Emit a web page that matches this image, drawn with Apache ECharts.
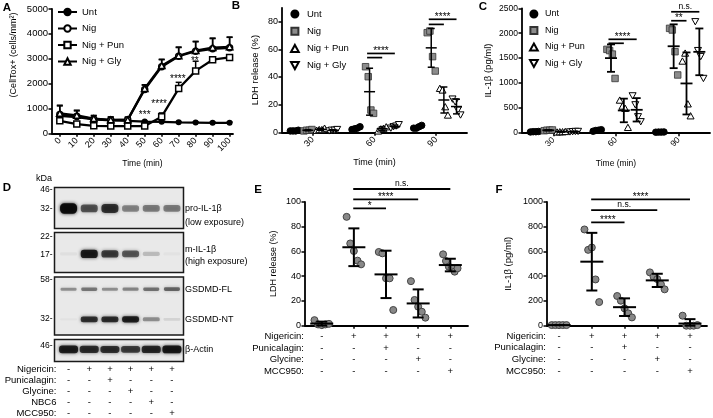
<!DOCTYPE html>
<html><head><meta charset="utf-8">
<script src="https://cdn.jsdelivr.net/npm/echarts@6.0.0/dist/echarts.min.js"></script>
<style>html,body{margin:0;padding:0;background:#fff;}#chart{width:713px;height:418px;}</style>
</head><body><div id="chart"></div>
<script>
const FONT = '"Liberation Sans", Arial, Helvetica, sans-serif';

// ===== Panel A: CellTox+ over time =====
const aTimes = [0, 10, 20, 30, 40, 50, 60, 70, 80, 90, 100];
const aUnt = [700, 650, 560, 520, 500, 470, 460, 440, 430, 420, 420];
const aNig = [760, 690, 570, 530, 550, 1760, 2680, 3100, 3300, 3400, 3440];
const aPun = [500, 370, 300, 290, 290, 290, 670, 1800, 2510, 2960, 3050];
const aGly = [800, 720, 590, 540, 540, 1800, 2720, 3120, 3330, 3450, 3480];
const aUntHi = [760, 700, 600, 560, 540, 500, 490, 470, 460, 450, 450];
const aNigHi = [1130, 930, 700, 650, 640, 1940, 2980, 3470, 3700, 3830, 3870];
const aPunHi = [580, 450, 360, 340, 340, 350, 820, 2050, 2900, 3060, 3130];
const aGlyHi = [1100, 900, 720, 660, 650, 1950, 2960, 3450, 3680, 3810, 3860];
const aStarTimes = [50, 58.5, 69.5, 79.5];
const aStarValues = [820, 1260, 2290, 3010];
const aStarLabels = ['***', '****', '****', '**'];

// ===== Panel B: LDH release (%) =====
const bGroups = ['30', '60', '90'];
const bUnt = [[1, 1, 1, 1.5], [2, 2.5, 3, 4], [3, 3, 4, 5]];
const bNig = [[1, 1.5, 1.5, 2], [47.4, 40.2, 16.1, 13.7], [72, 73.2, 54.7, 44.3]];
const bPun = [[1.5, 2, 2, 3], [1, 2.5, 3, 4], [31.8, 30.6, 18.5, 12.5]];
const bGly = [[1, 1.5, 1.5, 2], [3, 4, 4.5, 5.5], [24, 22, 16, 12.5]];
const bSigGroup = [1, 1, 2, 2];
const bSigTo = [3, 2, 3, 2];
const bSigY = [57, 54, 81.7, 78];
const bSigLabel = ['****', '', '****', ''];

// ===== Panel C: IL-1β (pg/ml) =====
const cGroups = ['30', '60', '90'];
const cUnt = [[15, 20, 20, 25], [30, 45, 50, 60], [10, 12, 12, 15]];
const cNig = [[40, 50, 50, 55], [1675, 1650, 1580, 1090], [2097, 2064, 1628, 1160]];
const cPun = [[15, 20, 20, 25], [656, 536, 490, 107], [1440, 1600, 580, 340]];
const cGly = [[15, 20, 25, 25], [740, 560, 320, 220], [2230, 1650, 1530, 1090]];
const cSigGroup = [1, 1, 2, 2];
const cSigTo = [3, 2, 2, 3];
const cSigY = [1877, 1797, 2250, 2430];
const cSigLabel = ['****', '', '**', 'n.s.'];

// ===== Panel D: western blot (relative band intensity per lane) =====
const dLanes = [0, 1, 2, 3, 4, 5];
const bandProIL1b = [1.0, 0.62, 0.78, 0.42, 0.45, 0.45];
const bandMIL1b = [0.04, 0.9, 0.72, 0.6, 0.2, 0.03];
const bandGsdmdFL = [0.38, 0.48, 0.38, 0.42, 0.5, 0.55];
const bandGsdmdNT = [0.03, 0.78, 0.8, 0.88, 0.38, 0.1];
const bandActin = [0.88, 0.8, 0.78, 0.72, 0.82, 0.92];
const dRowLabels = ['Nigericin:', 'Punicalagin:', 'Glycine:', 'NBC6', 'MCC950:'];
const dTreat = [
  ['-', '+', '+', '+', '+', '+'],
  ['-', '-', '+', '-', '-', '-'],
  ['-', '-', '-', '+', '-', '-'],
  ['-', '-', '-', '-', '+', '-'],
  ['-', '-', '-', '-', '-', '+']
];
const dMarkers = ['46-', '32-', '22-', '17-', '58-', '32-', '46-'];
const dBandNames = ['pro-IL-1β', '(low exposure)', 'm-IL-1β', '(high exposure)', 'GSDMD-FL', 'GSDMD-NT', 'β-Actin'];

// ===== Panel E: LDH release (%) =====
const eRowLabels = ['Nigericin:', 'Punicalagin:', 'Glycine:', 'MCC950:'];
const eTreat = [
  ['-', '+', '+', '+', '+'],
  ['-', '-', '+', '-', '-'],
  ['-', '-', '-', '+', '-'],
  ['-', '-', '-', '-', '+']
];
const eValues = [
  [4.5, 1, 0.5, 1, 1.5],
  [88, 66.5, 60.4, 52.6, 49.6],
  [59.6, 58.5, 38.3, 38.3, 12.7],
  [36, 20.8, 15.4, 11.3, 6.5],
  [57.7, 52.3, 47.7, 46.4, 43.7, 46.4]
];
const eSigTo = [2, 3, 4];
const eSigY = [94.9, 102.1, 110.5];
const eSigLabel = ['*', '****', 'n.s.'];

// ===== Panel F: IL-1β (pg/ml) =====
const fValues = [
  [5, 5, 5, 5, 5],
  [778, 613, 632, 374, 191],
  [240, 202, 140, 100, 67],
  [431, 396, 377, 334, 294],
  [81, 0, 0, 0, 5]
];
const fSigTo = [2, 3, 4];
const fSigY = [835.6, 935, 1021];
const fSigLabel = ['****', 'n.s.', '****'];

// ---------- helpers ----------
const subOff = [-0.3, -0.08, 0.125, 0.33];
const mean = a => a.reduce((s, v) => s + v, 0) / a.length;
const sd = a => { const m = mean(a); return Math.sqrt(a.reduce((s, v) => s + (v - m) * (v - m), 0) / (a.length - 1)); };
const spreadX = (c, i, n, w) => n > 1 ? c + (i - (n - 1) / 2) / (n - 1) * w : c;
const plain = v => String(v);

function dotData(groups, s, w) {
  const out = [];
  groups.forEach((vals, g) => vals.forEach((v, i) => out.push([spreadX(g + subOff[s], i, vals.length, w), v])));
  return out;
}
function errData(groups, s) {
  return groups.map((vals, g) => { const m = mean(vals), d = sd(vals); return [g + subOff[s], m, Math.max(0, m - d), m + d]; });
}
function errorSeries(ai, data, meanW, capW, lw, upperOnly) {
  return {
    type: 'custom', xAxisIndex: ai, yAxisIndex: ai, z: 6, silent: true, clip: false,
    encode: { x: 0, y: [1, 2, 3] }, data,
    renderItem(params, api) {
      const x = api.value(0), m = api.value(1), lo = api.value(2), hi = api.value(3);
      const pm = api.coord([x, m]), pl = api.coord([x, lo]), ph = api.coord([x, hi]);
      const st = { stroke: '#000', lineWidth: lw };
      const ch = [];
      if (meanW > 0) ch.push({ type: 'line', shape: { x1: pm[0] - meanW / 2, y1: pm[1], x2: pm[0] + meanW / 2, y2: pm[1] }, style: st });
      ch.push({ type: 'line', shape: { x1: pl[0], y1: pl[1], x2: ph[0], y2: ph[1] }, style: st });
      ch.push({ type: 'line', shape: { x1: ph[0] - capW / 2, y1: ph[1], x2: ph[0] + capW / 2, y2: ph[1] }, style: st });
      if (!upperOnly) ch.push({ type: 'line', shape: { x1: pl[0] - capW / 2, y1: pl[1], x2: pl[0] + capW / 2, y2: pl[1] }, style: st });
      return { type: 'group', children: ch };
    }
  };
}
function bracketSeries(ai, data, labels, lw, starSize, nsSize) {
  return {
    type: 'custom', xAxisIndex: ai, yAxisIndex: ai, z: 7, silent: true, clip: false,
    encode: { x: [0, 1], y: 2 }, data,
    renderItem(params, api) {
      const p1 = api.coord([api.value(0), api.value(2)]), p2 = api.coord([api.value(1), api.value(2)]);
      const lab = labels[api.value(3)];
      const ch = [{ type: 'line', shape: { x1: p1[0], y1: p1[1], x2: p2[0], y2: p2[1] }, style: { stroke: '#000', lineWidth: lw } }];
      if (lab) {
        const star = lab.indexOf('*') >= 0;
        ch.push({ type: 'text', x: (p1[0] + p2[0]) / 2, y: p1[1] - (star ? 2.2 : 5.5),
          style: { text: lab, fill: '#000', font: (star ? starSize : nsSize) + 'px ' + FONT, align: 'center', verticalAlign: 'middle' } });
      }
      return { type: 'group', children: ch };
    }
  };
}
function groupedBrackets(groupArr, toArr, yArr) {
  return groupArr.map((g, i) => [g + subOff[1] - 0.04, g + subOff[toArr[i]], yArr[i], i]);
}
function scatter(ai, name, data, symbol, size, fill, stroke, bw) {
  return { type: 'scatter', name, xAxisIndex: ai, yAxisIndex: ai, data, symbol, symbolSize: size, symbolKeepAspect: true, z: 4, clip: false,
    itemStyle: { color: fill, borderColor: stroke, borderWidth: bw, opacity: 1 } };
}
const SQUARE = 'path://M0,0 L10,0 L10,10 L0,10 Z';
const TRI = 'path://M5,0 L10,9 L0,9 Z';
const INV_TRI = 'path://M0,0 L10,0 L5,9 Z';

function axisBase() {
  return {
    axisLine: { show: true, onZero: false, lineStyle: { color: '#000', width: 1.8 } },
    axisTick: { show: true, length: 3.5, lineStyle: { color: '#000', width: 1.5 } },
    axisLabel: { color: '#000', fontFamily: FONT, fontSize: 9, margin: 4 },
    splitLine: { show: false },
    nameTextStyle: { color: '#000', fontFamily: FONT, fontSize: 9 },
    nameMoveOverlap: false
  };
}
function ax(extra) {
  const o = axisBase();
  for (const k in extra) {
    const v = extra[k];
    if (v && typeof v === 'object' && !Array.isArray(v) && o[k] && typeof o[k] === 'object') o[k] = Object.assign({}, o[k], v);
    else o[k] = v;
  }
  return o;
}

// blot band renderer
function bandSeries(ai, vals, yPos, baseH, w) {
  return {
    type: 'custom', xAxisIndex: ai, yAxisIndex: ai, silent: true, z: 3,
    encode: { x: 0, y: 1 }, data: dLanes.map((l, i) => [l, vals[i]]),
    renderItem(params, api) {
      const v = api.value(1); const c = api.coord([api.value(0), yPos]);
      const h = baseH * (0.5 + v);
      const col = 'rgba(10,10,10,' + Math.min(1, v * 0.95).toFixed(3) + ')';
      return { type: 'rect', shape: { x: c[0] - w / 2, y: c[1] - h / 2, width: w, height: h, r: h / 2.5 },
        style: { fill: col, shadowBlur: 3.5, shadowColor: col } };
    }
  };
}

const grids = [
  { left: 52, top: 9, width: 181, height: 124.3 },      // A
  { left: 282, top: 7.8, width: 185, height: 124.5 },   // B
  { left: 522, top: 8.3, width: 188, height: 124.4 },   // C
  { left: 305, top: 202, width: 163, height: 123.7 },   // E
  { left: 547, top: 202, width: 160, height: 123.7 },   // F
  { left: 54.5, top: 187.5, width: 129, height: 41 },   // D1
  { left: 54.5, top: 232.5, width: 129, height: 40 },   // D2
  { left: 54.5, top: 277, width: 129, height: 58 },     // D3
  { left: 54.5, top: 339.5, width: 129, height: 22 }    // D4
].map((g, i) => Object.assign({ outerBoundsMode: 'none', containLabel: false }, g,
  i >= 5 ? { show: true, borderColor: '#1a1a1a', borderWidth: 1.5, backgroundColor: '#e9e9e9' } : {}));

const blotX = { type: 'value', min: -0.68, max: 5.56, show: false };
const blotY = { type: 'value', min: 0, max: 1, show: false };

const xAxes = [
  ax({ type: 'value', gridIndex: 0, min: -4.6, max: 102, name: 'Time (min)', nameLocation: 'middle', nameGap: 25.5,
    nameTextStyle: { fontSize: 8.5 },
    axisTick: { customValues: aTimes }, axisLabel: { customValues: aTimes, rotate: 45, fontSize: 9, margin: 6, formatter: plain } }),
  ax({ type: 'value', gridIndex: 1, min: -0.5, max: 2.5, name: 'Time (min)', nameLocation: 'middle', nameGap: 26,
    axisTick: { customValues: [0, 1, 2] }, axisLabel: { customValues: [0, 1, 2], rotate: 45, margin: 6, formatter: v => bGroups[Math.round(v)] } }),
  ax({ type: 'value', gridIndex: 2, min: -0.5, max: 2.5, name: 'Time (min)', nameLocation: 'middle', nameGap: 26,
    nameTextStyle: { fontSize: 8.5 },
    axisTick: { customValues: [0, 1, 2] }, axisLabel: { customValues: [0, 1, 2], rotate: 45, margin: 6, fontSize: 8.5, formatter: v => cGroups[Math.round(v)] } }),
  ax({ type: 'value', gridIndex: 3, min: -0.52, max: 4.55,
    axisTick: { customValues: [0, 1, 2, 3, 4], length: 3 },
    axisLabel: { customValues: [0, 1, 2, 3, 4], fontSize: 9.5, lineHeight: 11.43, margin: 5.3, formatter: v => eTreat.map(r => r[Math.round(v)]).join('\n') } }),
  ax({ type: 'value', gridIndex: 4, min: -0.37, max: 4.52,
    axisTick: { customValues: [0, 1, 2, 3, 4], length: 3 },
    axisLabel: { customValues: [0, 1, 2, 3, 4], fontSize: 9.5, lineHeight: 11.67, margin: 4.5, formatter: v => eTreat.map(r => r[Math.round(v)]).join('\n') } }),
  Object.assign({ gridIndex: 5 }, blotX),
  Object.assign({ gridIndex: 6 }, blotX),
  Object.assign({ gridIndex: 7 }, blotX),
  { gridIndex: 8, type: 'value', min: -0.68, max: 5.56, show: true,
    axisLine: { show: false }, axisTick: { show: false }, splitLine: { show: false },
    axisLabel: { show: true, customValues: dLanes, color: '#000', fontFamily: FONT, fontSize: 9.5, lineHeight: 11.15, margin: 2,
      formatter: v => dTreat.map(r => r[Math.round(v)]).join('\n') } }
];
const yAxes = [
  ax({ type: 'value', gridIndex: 0, min: 0, max: 5000, interval: 1000, axisLabel: { fontSize: 9.5, formatter: plain } }),
  ax({ type: 'value', gridIndex: 1, min: 0, max: 90, name: 'LDH release (%)', nameLocation: 'middle', nameGap: 22,
    nameTextStyle: { fontSize: 9.5 },
    axisTick: { customValues: [0, 20, 40, 60, 80] }, axisLabel: { customValues: [0, 20, 40, 60, 80], fontSize: 9, formatter: plain } }),
  ax({ type: 'value', gridIndex: 2, min: 0, max: 2500, interval: 500, name: 'IL-1β (pg/ml)', nameLocation: 'middle', nameGap: 29,
    nameTextStyle: { fontSize: 9.5 }, axisLabel: { fontSize: 8.5, formatter: plain } }),
  ax({ type: 'value', gridIndex: 3, min: 0, max: 100, interval: 20, name: 'LDH release (%)', nameLocation: 'middle', nameGap: 26.5,
    nameTextStyle: { fontSize: 9 }, axisLabel: { fontSize: 9, formatter: plain } }),
  ax({ type: 'value', gridIndex: 4, min: 0, max: 1000, interval: 200, name: 'IL-1β (pg/ml)', nameLocation: 'middle', nameGap: 34,
    nameTextStyle: { fontSize: 9.5 }, axisLabel: { fontSize: 9, formatter: plain } }),
  Object.assign({ gridIndex: 5 }, blotY),
  Object.assign({ gridIndex: 6 }, blotY),
  Object.assign({ gridIndex: 7 }, blotY),
  Object.assign({ gridIndex: 8 }, blotY)
];

const series = [];
// Panel A
const aLine = (name, vals, symbol, size, fill) => ({
  type: 'line', name, xAxisIndex: 0, yAxisIndex: 0, data: aTimes.map((t, i) => [t, vals[i]]),
  symbol, symbolSize: size, showSymbol: true, z: 4, symbolKeepAspect: true,
  lineStyle: { color: '#000', width: 2.3 }, itemStyle: { color: fill, borderColor: '#000', borderWidth: 1.5 }
});
series.push(errorSeries(0, aTimes.map((t, i) => [t, aUnt[i], aUnt[i], aUntHi[i]]), 0, 6, 1.5, true));
series.push(errorSeries(0, aTimes.map((t, i) => [t, aPun[i], aPun[i], aPunHi[i]]), 0, 6, 1.5, true));
series.push(errorSeries(0, aTimes.map((t, i) => [t, aNig[i], aNig[i], aNigHi[i]]), 0, 6, 1.5, true));
series.push(errorSeries(0, aTimes.map((t, i) => [t, aGly[i], aGly[i], aGlyHi[i]]), 0, 6, 1.5, true));
series.forEach(s => s.z = 2);
series.push(aLine('A:Unt', aUnt, 'circle', 4.5, '#000'));
series.push(aLine('A:Nig', aNig, 'circle', 6, '#fff'));
series.push(aLine('A:Nig + Pun', aPun, SQUARE, 6, '#fff'));
series.push(aLine('A:Nig + Gly', aGly, TRI, 6.5, '#fff'));
series.push({
  type: 'custom', xAxisIndex: 0, yAxisIndex: 0, z: 7, silent: true, clip: false, encode: { x: 0, y: 1 },
  data: aStarTimes.map((t, i) => [t, aStarValues[i], i]),
  renderItem(params, api) {
    const p = api.coord([api.value(0), api.value(1)]);
    return { type: 'text', x: p[0], y: p[1] + 2.5, style: { text: aStarLabels[api.value(2)], fill: '#000', font: '10px ' + FONT, align: 'center', verticalAlign: 'middle' } };
  }
});

// Panel B & C dot plots
function dotPanel(ai, prefix, sets, w, meanW, capW, lw, size) {
  const sty = [
    ['circle', size, '#000', '#000', 1],
    [SQUARE, size, '#8c8c8c', '#333', 0.8],
    [TRI, size + 0.5, '#fff', '#000', 1],
    [INV_TRI, size + 0.5, '#fff', '#000', 1]
  ];
  const names = ['Unt', 'Nig', 'Nig + Pun', 'Nig + Gly'];
  sets.forEach((grp, s) => {
    const st = sty[s];
    series.push(scatter(ai, prefix + names[s], dotData(grp, s, w), st[0], st[1], st[2], st[3], st[4]));
    series.push(errorSeries(ai, errData(grp, s), meanW, capW, lw, false));
  });
}
dotPanel(1, 'B:', [bUnt, bNig, bPun, bGly], 0.13, 11, 7, 1.5, 6.5);
series.push(bracketSeries(1, groupedBrackets(bSigGroup, bSigTo, bSigY), bSigLabel, 1.7, 10, 8.5));
dotPanel(2, 'C:', [cUnt, cNig, cPun, cGly], 0.13, 12, 8, 1.8, 6.5);
series.push(bracketSeries(2, groupedBrackets(cSigGroup, cSigTo, cSigY), cSigLabel, 1.7, 10, 8.5));

// Panel E & F
function treatPanel(ai, vals, sigTo, sigY, sigLabel) {
  const pts = [];
  vals.forEach((g, gi) => g.forEach((v, i) => pts.push([spreadX(gi, i, g.length, 0.45), v])));
  series.push(scatter(ai, 'dots' + ai, pts, 'circle', 7, '#888', '#444', 1));
  series.push(errorSeries(ai, vals.map((g, gi) => { const m = mean(g), d = sd(g); return [gi, m, Math.max(0, m - d), m + d]; }), 23, 11, 2, false));
  series.push(bracketSeries(ai, sigTo.map((t, i) => [1 - 0.02, t, sigY[i], i]), sigLabel, 1.8, 10, 8.5));
}
treatPanel(3, eValues, eSigTo, eSigY, eSigLabel);
treatPanel(4, fValues, fSigTo, fSigY, fSigLabel);

// Panel D bands
series.push(bandSeries(5, bandProIL1b, 0.49, 7, 17));
series.push(bandSeries(6, bandMIL1b, 0.465, 6, 17));
series.push(bandSeries(7, bandGsdmdFL, 0.79, 3.5, 16));
series.push(bandSeries(7, bandGsdmdNT, 0.27, 4.5, 17));
series.push(bandSeries(8, bandActin, 0.55, 5.5, 19));

// ---------- graphics (panel letters, blot annotations, row labels) ----------
const txt = (text, x, y, size, align, vAlign, extra) => Object.assign({
  type: 'text', x, y, silent: true,
  style: { text, fill: '#000', font: size + 'px ' + FONT, align: align || 'left', verticalAlign: vAlign || 'middle' }
}, extra || {});
const multi = (lines, x, y, lh) => ({ type: 'text', x, y, silent: true,
  style: { text: lines.join('\n'), fill: '#000', font: '9.5px ' + FONT, align: 'right', verticalAlign: 'top', lineHeight: lh } });
const graphics = [];
[['A', 7, 8], ['B', 236, 6], ['C', 483, 7], ['D', 7, 188], ['E', 258, 190], ['F', 499, 190]].forEach(l => {
  graphics.push({ type: 'text', x: l[1], y: l[2], silent: true, style: { text: l[0], fill: '#000', font: 'bold 11.5px ' + FONT, align: 'center', verticalAlign: 'middle' } });
});
graphics.push(txt('(CellTox+ (cells/mm²)', 13.5, 55, 9, 'center', 'middle', { rotation: Math.PI / 2 }));
graphics.push(txt('kDa', 44, 178.3, 9, 'center'));
const markerY = [190, 208.3, 236.5, 255, 280, 319, 346];
dMarkers.forEach((m, i) => graphics.push(txt(m, 52.5, markerY[i], 8.5, 'right')));
const bandLabelY = [208.3, 222.7, 249.3, 262, 289.3, 320, 349.3];
dBandNames.forEach((n, i) => graphics.push(txt(n, 185, bandLabelY[i], 9, 'left')));
graphics.push(multi(dRowLabels, 56.5, 363.4, 11.15));
graphics.push(multi(eRowLabels, 304, 331, 11.43));
graphics.push(multi(eRowLabels, 546, 330.2, 11.67));

const legendBase = (extra) => Object.assign({
  orient: 'vertical', padding: 0, selectedMode: false, symbolKeepAspect: true,
  formatter: n => n.slice(2), textStyle: { fontFamily: FONT, fontSize: 9.5, color: '#000' }
}, extra);

const option = {
  animation: false,
  backgroundColor: '#fff',
  textStyle: { fontFamily: FONT },
  grid: grids,
  xAxis: xAxes,
  yAxis: yAxes,
  legend: [
    legendBase({ left: 57, top: 7, itemWidth: 19, itemHeight: 8, itemGap: 6.5, data: ['A:Unt', 'A:Nig', 'A:Nig + Pun', 'A:Nig + Gly'] }),
    legendBase({ left: 290, top: 9, itemWidth: 14, itemHeight: 7, itemGap: 7.2, data: ['B:Unt', 'B:Nig', 'B:Nig + Pun', 'B:Nig + Gly'] }),
    legendBase({ left: 529, top: 9.5, itemWidth: 12, itemHeight: 7, itemGap: 7.5, textStyle: { fontFamily: FONT, fontSize: 9, color: '#000' }, data: ['C:Unt', 'C:Nig', 'C:Nig + Pun', 'C:Nig + Gly'] })
  ],
  series,
  graphic: graphics
};
const chart = echarts.init(document.getElementById('chart'), null, { renderer: 'canvas' });
chart.setOption(option);
</script>
</body></html>
